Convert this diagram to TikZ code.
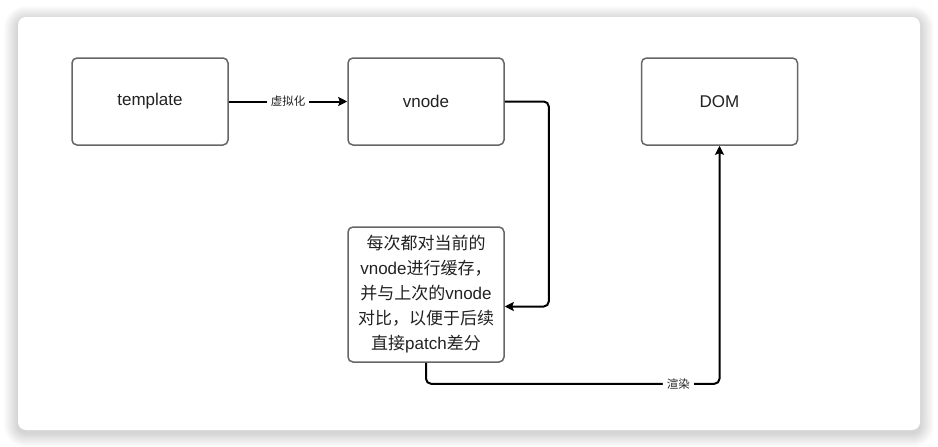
\documentclass[tikz,border=0pt]{standalone}
\usepackage{fontspec}
\setmainfont{Liberation Sans}
\newfontfamily\cjk{Noto Sans CJK SC}
\usepackage{tikz}
\usetikzlibrary{positioning}
\usetikzlibrary{arrows.meta}
\usetikzlibrary{calc}
\definecolor{boxgray}{RGB}{102,102,102}
\definecolor{textgray}{RGB}{34,34,34}

\begin{document}
\begin{tikzpicture}[x=1pt,y=-1pt]
	\useasboundingbox (0,0) rectangle (938,447);
	% card with a soft shadow
	\foreach \s in {1,...,14}
	    \fill[black,opacity=0.011,rounded corners=8+\s] (18-\s,17-\s+3) rectangle (920+\s,430+\s+3);
	\fill[white,rounded corners=8] (18,17) rectangle (920,430);

	\begin{scope}[every node/.style={draw=boxgray,line width=1.5pt,rounded corners=5pt,fill=white,
	              text=textgray,minimum width=156pt,font=\fontsize{17}{25}\selectfont}]
	    \node (template) [minimum height=87pt] at (150,101.5) {template};
	    \node (vnode) [minimum height=87pt] at (426,101.5) {vnode};
	    \node (dom) [minimum height=87pt] at (719.5,101.5) {DOM};
	    \node (cache) [minimum height=135pt,align=center,inner sep=2pt] at (426,294.5)
	        {{\cjk 每次都对当前的}\\vnode{\cjk 进行缓存，}\\{\cjk 并与上次的}vnode\\{\cjk 对比，以便于后续}\\{\cjk 直接}patch{\cjk 差分}};
	\end{scope}

	\begin{scope}[>={Stealth[length=9pt,width=9pt,inset=1.5pt]},
	              every edge/.style={draw=black,line width=2pt},
	              lbl/.style={fill=white,text=textgray,font=\fontsize{11.5}{13}\selectfont\cjk,inner sep=4pt}]
	    \path [->] (template) edge node[lbl] {虚拟化} (vnode);
	    \draw [->,line width=2pt,rounded corners=5pt] (vnode.east) -- ++(44,0) |- ([yshift=-12pt]cache.east);
	    \draw [->,line width=2pt,rounded corners=5pt] (cache.south) -- ++(0,21) -| node[lbl,pos=0.43] {渲染} (dom.south);
	\end{scope}
\end{tikzpicture}
\end{document}
